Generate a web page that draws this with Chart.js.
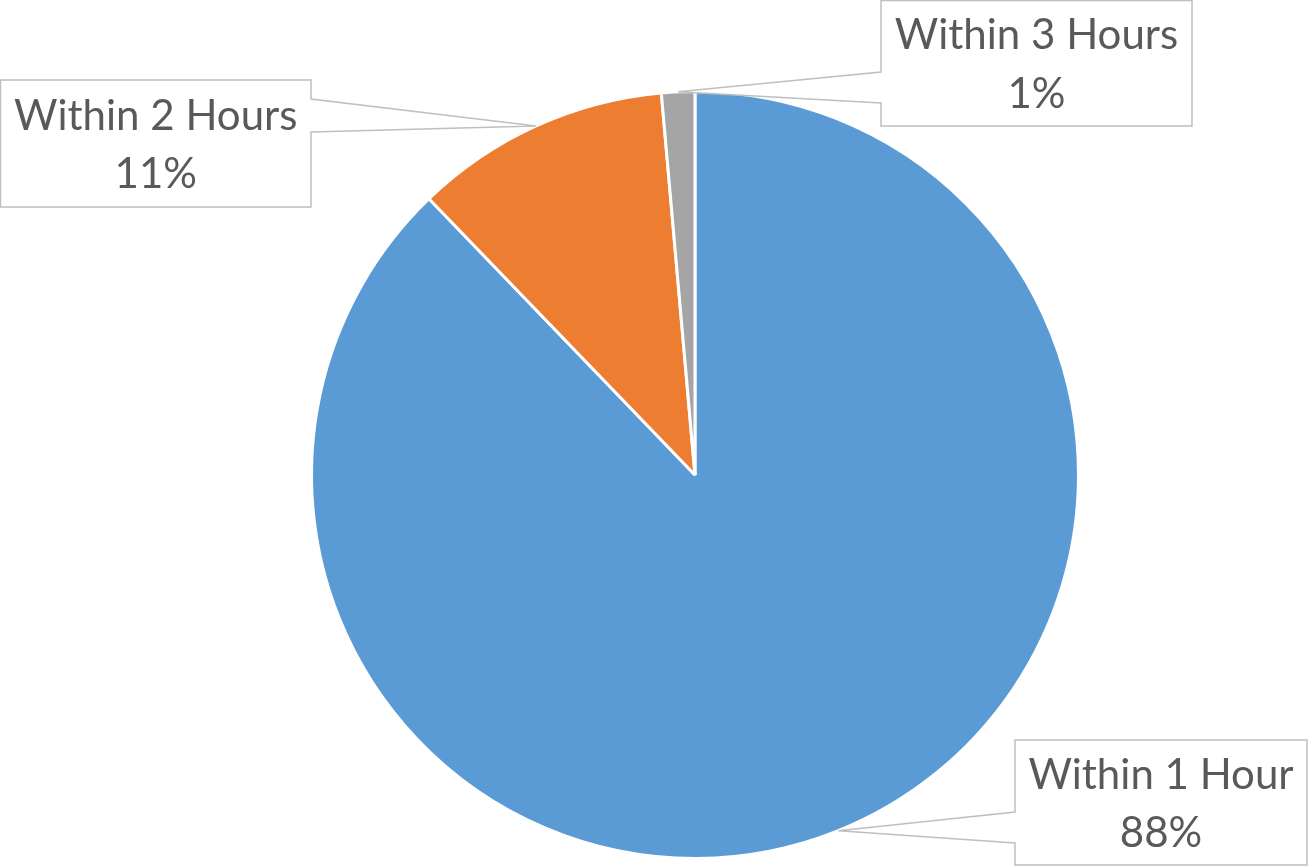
<!DOCTYPE html>
<html>
<head>
<meta charset="utf-8">
<script src="https://cdn.jsdelivr.net/npm/chart.js@4.4.1/dist/chart.umd.min.js"></script>
<style>
  html, body { margin: 0; padding: 0; background: #fff; overflow: hidden; }
  #pie { display: block; }
</style>
</head>
<body>
<canvas id="pie" width="1311" height="867"></canvas>
<script>
// 데이터
var categories = ['Within 1 Hour', 'Within 2 Hours', 'Within 3 Hours'];
var shares = [87.8, 10.8, 1.4];
var sliceColors = ['#5B9BD5', '#ED7D31', '#A5A5A5'];

// callout box 위치 (라벨 박스, notch = 꼬리가 붙는 변)
var labelBoxes = [
  { x: 1015, y: 740, w: 292, h: 125, side: 'left', n1: 812, n2: 843 },
  { x: 0.5, y: 80, w: 310.5, h: 127, side: 'right', n1: 99, n2: 132 },
  { x: 881, y: 0.5, w: 311, h: 125.5, side: 'left', n1: 72, n2: 103 },
];

var textColor = '#595959';
var boxColor = '#BFBFBF';
var labelFont = '42px Lato';

const calloutPlugin = {
  id: 'callout',
  afterDatasetsDraw(chart) {
    const ctx = chart.ctx;
    const meta = chart.getDatasetMeta(0);
    const vals = chart.data.datasets[0].data;
    const total = vals.reduce((a, b) => a + b, 0);

    meta.data.forEach((arc, i) => {
      const p = arc.getProps(['x', 'y', 'startAngle', 'endAngle', 'outerRadius'], true);
      const mid = (p.startAngle + p.endAngle) / 2;
      // 꼬리 끝 = 호의 중간점
      const tx = p.x + Math.cos(mid) * p.outerRadius;
      const ty = p.y + Math.sin(mid) * p.outerRadius;
      const b = labelBoxes[i];

      ctx.save();
      ctx.beginPath();
      if (b.side === 'right') {
        ctx.moveTo(b.x, b.y);
        ctx.lineTo(b.x + b.w, b.y);
        ctx.lineTo(b.x + b.w, b.n1);
        ctx.lineTo(tx, ty);
        ctx.lineTo(b.x + b.w, b.n2);
        ctx.lineTo(b.x + b.w, b.y + b.h);
        ctx.lineTo(b.x, b.y + b.h);
      } else {
        ctx.moveTo(b.x, b.y);
        ctx.lineTo(b.x + b.w, b.y);
        ctx.lineTo(b.x + b.w, b.y + b.h);
        ctx.lineTo(b.x, b.y + b.h);
        ctx.lineTo(b.x, b.n2);
        ctx.lineTo(tx, ty);
        ctx.lineTo(b.x, b.n1);
      }
      ctx.closePath();
      ctx.fillStyle = '#fff';
      ctx.fill();
      ctx.strokeStyle = boxColor;
      ctx.lineWidth = 1.5;
      ctx.stroke();

      // 텍스트 2줄 (baseline 기준)
      const cx = b.x + b.w / 2;
      const cy = b.y + b.h / 2;
      ctx.fillStyle = textColor;
      ctx.font = labelFont;
      ctx.textAlign = 'center';
      ctx.textBaseline = 'alphabetic';
      ctx.fillText(chart.data.labels[i], cx, cy - 14);
      ctx.fillText(Math.round(vals[i] / total * 100) + '%', cx, cy + 44.5);
      ctx.restore();
    });
  },
};

var myChart = new Chart(document.querySelector('#pie'), {
  type: 'pie',
  data: {
    labels: categories,
    datasets: [{
      data: shares,
      backgroundColor: sliceColors,
      borderColor: '#ffffff',
      borderWidth: 3,
    }],
  },
  options: {
    responsive: false,
    animation: false,
    devicePixelRatio: 1,
    layout: {
      padding: { top: 90, bottom: 7, left: 310, right: 231 },
    },
    plugins: {
      legend: { display: false },
      title: { display: false },
      tooltip: { enabled: false },
    },
  },
  plugins: [calloutPlugin],
});
</script>
</body>
</html>
